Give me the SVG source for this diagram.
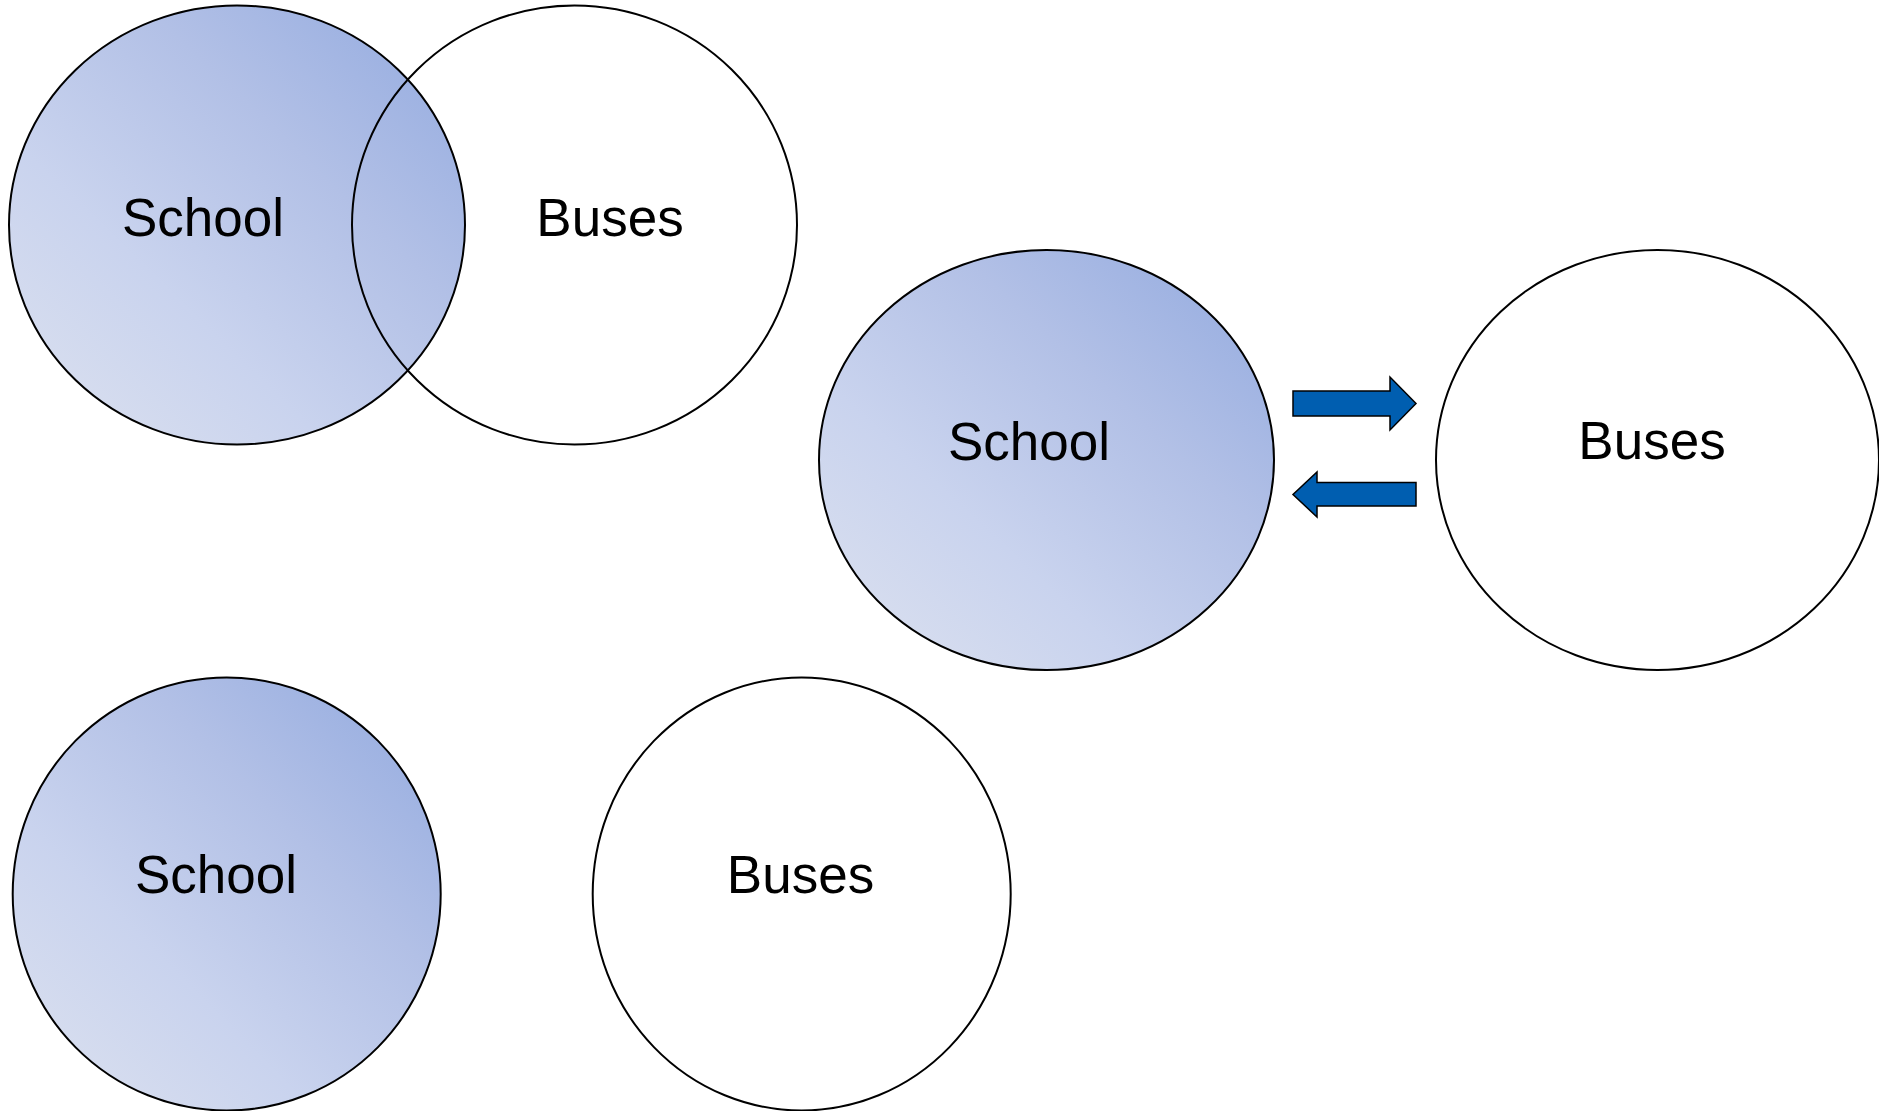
<svg xmlns="http://www.w3.org/2000/svg" width="1879" height="1111" viewBox="0 0 1879 1111">
  <defs>
    <!-- soft lavender-to-blue fill, light at lower left, deeper at upper right -->
    <linearGradient id="blueFill" x1="0" y1="1" x2="1" y2="0">
      <stop offset="0" stop-color="#dde2ef"/>
      <stop offset="0.35" stop-color="#c9d3ee"/>
      <stop offset="0.65" stop-color="#b2c0e6"/>
      <stop offset="1" stop-color="#91a9df"/>
    </linearGradient>
  </defs>
  <style>
    .ring { stroke: #000; stroke-width: 2; }
    .school { fill: url(#blueFill); }
    .buses { fill: none; }
    .buses-solid { fill: #fff; }
    .label { font-family: "Liberation Sans", Arial, sans-serif; font-size: 53px; fill: #000; text-anchor: middle; }
    .arrow { fill: #005eb0; stroke: #000; stroke-width: 1.5; stroke-linejoin: miter; }
  </style>

  <rect width="1879" height="1111" fill="#fff"/>

  <!-- overlapping pair, upper left -->
  <g id="school-overlap">
    <ellipse class="ring school" cx="237" cy="225" rx="228" ry="219.5"/>
    <text class="label" x="203" y="236">School</text>
  </g>
  <g id="buses-overlap">
    <ellipse class="ring buses" cx="574.5" cy="225" rx="222.5" ry="219.5"/>
    <text class="label" x="610" y="236">Buses</text>
  </g>

  <!-- linked pair, middle right -->
  <g id="school-linked">
    <ellipse class="ring school" cx="1046.5" cy="460" rx="227.5" ry="210"/>
    <text class="label" x="1029" y="460">School</text>
  </g>
  <g id="buses-linked">
    <ellipse class="ring buses-solid" cx="1657.5" cy="460" rx="221.5" ry="210"/>
    <text class="label" x="1652" y="459">Buses</text>
  </g>

  <!-- separate pair, lower left -->
  <g id="school-separate">
    <ellipse class="ring school" cx="226.7" cy="894" rx="214" ry="216.5"/>
    <text class="label" x="216" y="893">School</text>
  </g>
  <g id="buses-separate">
    <ellipse class="ring buses-solid" cx="801.7" cy="894" rx="209" ry="216.5"/>
    <text class="label" x="800.5" y="893">Buses</text>
  </g>

  <!-- block arrows between the linked pair -->
  <g id="connectors">
    <polygon class="arrow" points="1293,391 1390,391 1390,377 1416,403.5 1390,430 1390,416 1293,416"/>
    <polygon class="arrow" points="1416,482.5 1317,482.5 1317,472 1293,494.5 1317,517 1317,506 1416,506"/>
  </g>
</svg>
